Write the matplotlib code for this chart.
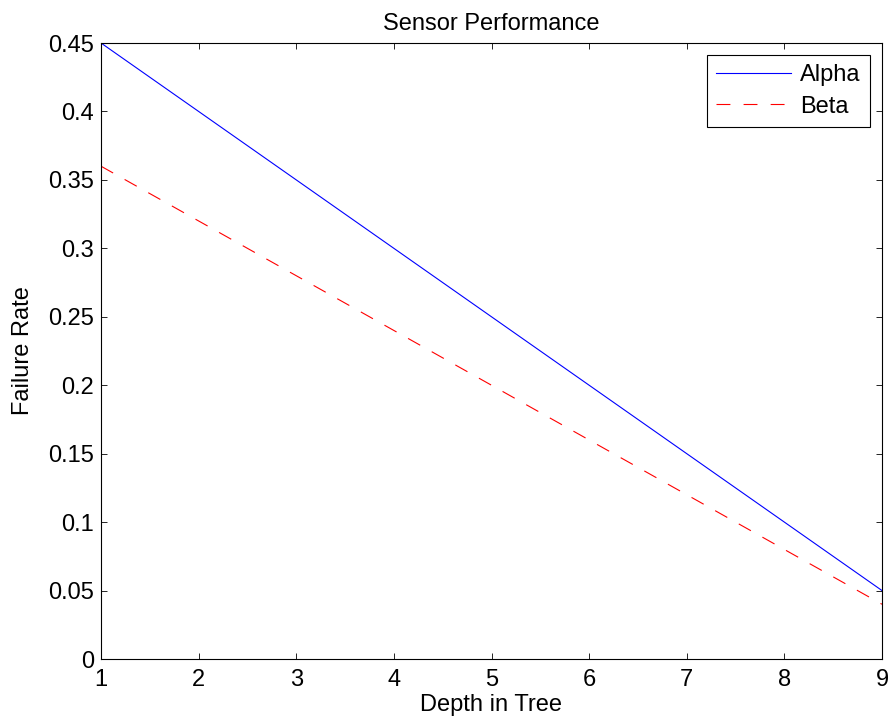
import numpy as np
import matplotlib
matplotlib.use('Agg')
from matplotlib import pyplot as plt

# chart data
depth = [1, 2, 3, 4, 5, 6, 7, 8, 9]
alpha_rate = [0.45, 0.40, 0.35, 0.30, 0.25, 0.20, 0.15, 0.10, 0.05]
beta_rate = [0.36, 0.32, 0.28, 0.24, 0.20, 0.16, 0.12, 0.08, 0.04]
yticks = [0, 0.05, 0.1, 0.15, 0.2, 0.25, 0.3, 0.35, 0.4, 0.45]
yticklabels = ['0', '0.05', '0.1', '0.15', '0.2', '0.25', '0.3', '0.35', '0.4', '0.45']

plt.rcParams['font.family'] = ['Liberation Sans', 'DejaVu Sans']
plt.rcParams['font.size'] = 17
plt.rcParams['lines.scale_dashes'] = False

fig = plt.figure(figsize=(8.91, 7.27), dpi=100)
W, H = 891.0, 727.0
# axes box in pixels: left 101, right 882, top 43, bottom 659
ax = fig.add_axes([101 / W, 1 - 659 / H, 781 / W, 616 / H])

ax.plot(depth, alpha_rate, color=(0, 0, 1), linewidth=0.8, label='Alpha')
ax.plot(depth, beta_rate, color=(1, 0, 0), linewidth=0.8, dashes=(10, 9.5), label='Beta')

ax.set_xlim(1, 9)
ax.set_ylim(0, 0.45)
ax.set_xticks(depth)
ax.set_yticks(yticks)
ax.set_yticklabels(yticklabels)

# matlab style box with inward ticks on all sides
for side in ax.spines.values():
    side.set_linewidth(0.8)
ax.tick_params(direction='in', length=4.5, width=0.6, top=True, right=True)
ax.tick_params(axis='y', pad=5)
ax.tick_params(axis='x', pad=7)

ax.set_title('Sensor Performance', pad=9, fontsize=17)
ax.set_xlabel('Depth in Tree', labelpad=2)
ax.set_ylabel('Failure Rate', labelpad=10)

leg = ax.legend(loc='upper right', fancybox=False, framealpha=1, edgecolor='black',
                handlelength=3.15, handletextpad=0.4, labelspacing=0.4,
                borderpad=0.4, borderaxespad=0.5)
leg.get_frame().set_linewidth(0.8)

fig.savefig('out.png', dpi=100)
